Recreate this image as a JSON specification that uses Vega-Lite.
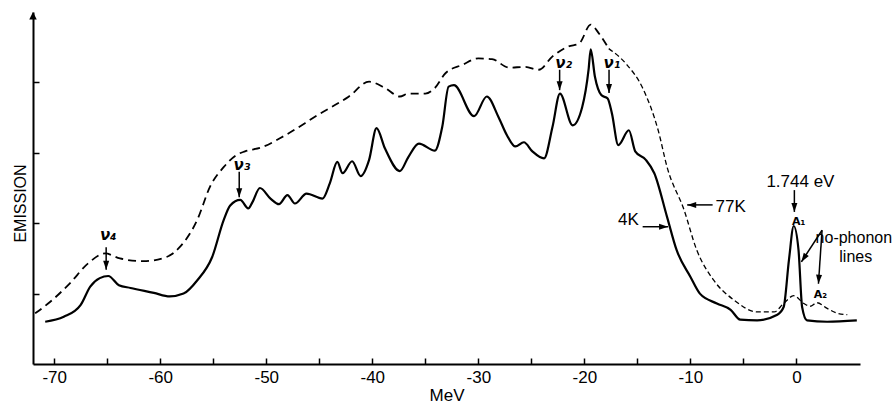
{
  "$schema": "https://vega.github.io/schema/vega-lite/v6.json",
  "width": 827,
  "height": 352,
  "autosize": {"type": "none"},
  "padding": {"left": 33, "top": 12, "right": 34, "bottom": 39},
  "background": "white",
  "config": {"view": {"stroke": null}, "font": "Liberation Sans"},
  "datasets": {
    "k4": [
      {"x": -70.85, "y": 0.60}, {"x": -69.1, "y": 0.67}, {"x": -67.5, "y": 0.84}, {"x": -66.6, "y": 1.10},
      {"x": -65.7, "y": 1.22}, {"x": -64.9, "y": 1.25}, {"x": -63.9, "y": 1.12}, {"x": -62.8, "y": 1.08},
      {"x": -60.6, "y": 1.01}, {"x": -59.1, "y": 0.96}, {"x": -57.8, "y": 1.00}, {"x": -56.5, "y": 1.19},
      {"x": -55.1, "y": 1.52}, {"x": -54.0, "y": 2.05}, {"x": -53.4, "y": 2.25}, {"x": -52.45, "y": 2.33},
      {"x": -51.7, "y": 2.21}, {"x": -51.3, "y": 2.30}, {"x": -50.6, "y": 2.50}, {"x": -49.6, "y": 2.35},
      {"x": -48.8, "y": 2.27}, {"x": -48.0, "y": 2.40}, {"x": -47.3, "y": 2.28}, {"x": -46.2, "y": 2.42},
      {"x": -44.7, "y": 2.35}, {"x": -44.0, "y": 2.57}, {"x": -43.3, "y": 2.87}, {"x": -42.8, "y": 2.71},
      {"x": -41.9, "y": 2.88}, {"x": -41.1, "y": 2.67}, {"x": -40.3, "y": 2.90}, {"x": -39.6, "y": 3.35},
      {"x": -38.8, "y": 3.06}, {"x": -37.4, "y": 2.74}, {"x": -36.6, "y": 2.94}, {"x": -35.6, "y": 3.13},
      {"x": -34.1, "y": 3.03}, {"x": -33.4, "y": 3.37}, {"x": -32.8, "y": 3.94}, {"x": -32.3, "y": 3.96},
      {"x": -30.4, "y": 3.52}, {"x": -29.2, "y": 3.80}, {"x": -28.1, "y": 3.51}, {"x": -27.3, "y": 3.25},
      {"x": -26.5, "y": 3.09}, {"x": -25.7, "y": 3.15}, {"x": -24.9, "y": 3.02}, {"x": -23.8, "y": 2.92},
      {"x": -23.0, "y": 3.37}, {"x": -22.3, "y": 3.84}, {"x": -21.1, "y": 3.39}, {"x": -20.2, "y": 3.65},
      {"x": -19.6, "y": 4.18}, {"x": -19.4, "y": 4.47}, {"x": -19.0, "y": 4.08}, {"x": -18.4, "y": 3.82},
      {"x": -17.8, "y": 3.77}, {"x": -17.4, "y": 3.56}, {"x": -16.8, "y": 3.11}, {"x": -15.8, "y": 3.32},
      {"x": -15.2, "y": 3.02}, {"x": -14.2, "y": 2.90}, {"x": -13.4, "y": 2.71}, {"x": -12.2, "y": 2.09},
      {"x": -11.3, "y": 1.62}, {"x": -10.0, "y": 1.24}, {"x": -9.1, "y": 1.00}, {"x": -7.5, "y": 0.86},
      {"x": -6.2, "y": 0.77}, {"x": -5.3, "y": 0.63}, {"x": -3.7, "y": 0.62}, {"x": -1.8, "y": 0.70},
      {"x": -1.2, "y": 0.81}, {"x": -0.7, "y": 1.48}, {"x": -0.25, "y": 1.96}, {"x": 0.2, "y": 1.62},
      {"x": 0.54, "y": 0.81}, {"x": 1.0, "y": 0.62}, {"x": 2.9, "y": 0.60}, {"x": 5.7, "y": 0.62}
    ],
    "k77a": [
      {"x": -71.8, "y": 0.72}, {"x": -70.4, "y": 0.88}, {"x": -68.5, "y": 1.15}, {"x": -66.8, "y": 1.43},
      {"x": -65.2, "y": 1.57}, {"x": -63.8, "y": 1.50}, {"x": -61.6, "y": 1.46}, {"x": -59.4, "y": 1.52},
      {"x": -58.1, "y": 1.67}, {"x": -56.5, "y": 2.05}, {"x": -55.3, "y": 2.52}, {"x": -54.0, "y": 2.80},
      {"x": -52.8, "y": 2.97}, {"x": -52.0, "y": 3.02}, {"x": -50.4, "y": 3.08}, {"x": -48.2, "y": 3.25},
      {"x": -45.1, "y": 3.54}, {"x": -42.2, "y": 3.80}, {"x": -40.3, "y": 4.01}, {"x": -38.8, "y": 3.92},
      {"x": -37.4, "y": 3.80}, {"x": -36.6, "y": 3.84}, {"x": -35.0, "y": 3.84}, {"x": -34.1, "y": 3.92},
      {"x": -33.1, "y": 4.13}, {"x": -31.5, "y": 4.25}, {"x": -30.0, "y": 4.34}, {"x": -28.7, "y": 4.33},
      {"x": -27.1, "y": 4.21}, {"x": -25.6, "y": 4.22}, {"x": -24.3, "y": 4.18}, {"x": -23.0, "y": 4.37},
      {"x": -21.5, "y": 4.51}, {"x": -20.5, "y": 4.55}, {"x": -19.4, "y": 4.82}, {"x": -18.6, "y": 4.69},
      {"x": -17.7, "y": 4.48}
    ],
    "k77b": [
      {"x": -17.7, "y": 4.48}, {"x": -16.1, "y": 4.27}, {"x": -14.5, "y": 3.92}, {"x": -13.0, "y": 3.30},
      {"x": -12.2, "y": 2.80}, {"x": -10.6, "y": 2.19}, {"x": -9.4, "y": 1.62}, {"x": -7.8, "y": 1.19},
      {"x": -5.9, "y": 0.91}, {"x": -3.7, "y": 0.74}, {"x": -2.1, "y": 0.74}, {"x": -1.2, "y": 0.86},
      {"x": -0.25, "y": 0.97}, {"x": 0.7, "y": 0.86}, {"x": 1.3, "y": 0.82}, {"x": 1.95, "y": 0.87},
      {"x": 2.9, "y": 0.79}, {"x": 3.9, "y": 0.72}, {"x": 4.8, "y": 0.70}
    ],
    "arrows": [
      {"x": -65.1, "y": 1.66, "x2": -65.1, "y2": 1.34, "dir": "down"},
      {"x": -52.55, "y": 2.73, "x2": -52.55, "y2": 2.37, "dir": "down"},
      {"x": -22.33, "y": 4.18, "x2": -22.33, "y2": 3.89, "dir": "down"},
      {"x": -17.67, "y": 4.18, "x2": -17.67, "y2": 3.85, "dir": "down"},
      {"x": -0.19, "y": 2.47, "x2": -0.19, "y2": 2.16, "dir": "down"},
      {"x": -7.9, "y": 2.26, "x2": -10.3, "y2": 2.26, "dir": "left"},
      {"x": -14.5, "y": 1.95, "x2": -12.1, "y2": 1.95, "dir": "right"},
      {"x": 2.42, "y": 1.90, "x2": 0.47, "y2": 1.45, "dir": "diag1"},
      {"x": 2.42, "y": 1.90, "x2": 2.08, "y2": 1.14, "dir": "diag2"},
      {"x": -72, "y": 5, "x2": -72, "y2": 5, "dir": "up"}
    ],
    "nu": [
      {"x": -64.9, "y": 1.83, "t": "ν₄"},
      {"x": -52.3, "y": 2.83, "t": "ν₃"},
      {"x": -21.95, "y": 4.27, "t": "ν₂"},
      {"x": -17.4, "y": 4.27, "t": "ν₁"}
    ],
    "big": [
      {"x": 0.38, "y": 2.59, "t": "1.744 eV"},
      {"x": -6.2, "y": 2.23, "t": "77K"},
      {"x": -15.85, "y": 2.05, "t": "4K"}
    ],
    "np": [
      {"x": 5.42, "y": 1.79, "t": "no-phonon"},
      {"x": 5.6, "y": 1.52, "t": "lines"}
    ],
    "alab": [
      {"x": 0.22, "y": 2.02, "t": "A₁"},
      {"x": 2.26, "y": 0.98, "t": "A₂"}
    ]
  },
  "encoding": {
    "x": {
      "field": "x", "type": "quantitative",
      "scale": {"domain": [-72, 6], "nice": false, "zero": false},
      "axis": {
        "values": [-70, -65, -60, -55, -50, -45, -40, -35, -30, -25, -20, -15, -10, -5, 0],
        "labelExpr": "datum.value % 10 === 0 ? (datum.value < 0 ? '-' + abs(datum.value) : '' + datum.value) : ''",
        "grid": false, "domainColor": "black", "domainWidth": 2,
        "tickColor": "black", "tickWidth": 1.5, "tickSize": -6, "labelPadding": 11,
        "labelFontSize": 17, "labelColor": "black", "labelFont": "Liberation Sans",
        "title": "MeV", "titleFontSize": 17, "titleFontWeight": "normal", "titleColor": "black",
        "titleFont": "Liberation Sans", "titleBaseline": "alphabetic", "titleY": 36
      }
    },
    "y": {
      "field": "y", "type": "quantitative",
      "scale": {"domain": [0, 5], "nice": false, "zero": false},
      "axis": {
        "values": [1, 2, 3, 4], "labels": false, "grid": false,
        "domainColor": "black", "domainWidth": 2,
        "tickColor": "black", "tickWidth": 1.5, "tickSize": -6,
        "title": "EMISSION", "titleFontSize": 16, "titleFontWeight": "normal", "titleColor": "black",
        "titleFont": "Liberation Sans", "titleAngle": 270, "titleAlign": "center",
        "titleBaseline": "alphabetic", "titleX": -8, "titleY": 191
      }
    }
  },
  "layer": [
    {"data": {"name": "k77a"}, "mark": {"type": "line", "interpolate": "monotone", "stroke": "black", "strokeWidth": 1.8, "strokeDash": [8, 5]}},
    {"data": {"name": "k77b"}, "mark": {"type": "line", "interpolate": "monotone", "stroke": "black", "strokeWidth": 1.3, "strokeDash": [5, 3]}},
    {"data": {"name": "k4"}, "mark": {"type": "line", "interpolate": "monotone", "stroke": "black", "strokeWidth": 2.2}},
    {"data": {"name": "arrows"}, "mark": {"type": "rule", "stroke": "black", "strokeWidth": 1.5},
     "encoding": {"x2": {"field": "x2"}, "y2": {"field": "y2"}}},
    {"data": {"name": "arrows"}, "transform": [{"filter": "datum.dir === 'down'"}],
     "mark": {"type": "point", "filled": true, "color": "black", "opacity": 1, "size": 100, "shape": "M0,0L-0.6,-1.8L0.6,-1.8Z", "angle": 0},
     "encoding": {"x": {"field": "x2", "type": "quantitative"}, "y": {"field": "y2", "type": "quantitative"}}},
    {"data": {"name": "arrows"}, "transform": [{"filter": "datum.dir === 'left'"}],
     "mark": {"type": "point", "filled": true, "color": "black", "opacity": 1, "size": 100, "shape": "M0,0L-0.6,-1.8L0.6,-1.8Z", "angle": 90},
     "encoding": {"x": {"field": "x2", "type": "quantitative"}, "y": {"field": "y2", "type": "quantitative"}}},
    {"data": {"name": "arrows"}, "transform": [{"filter": "datum.dir === 'right'"}],
     "mark": {"type": "point", "filled": true, "color": "black", "opacity": 1, "size": 100, "shape": "M0,0L-0.6,-1.8L0.6,-1.8Z", "angle": 270},
     "encoding": {"x": {"field": "x2", "type": "quantitative"}, "y": {"field": "y2", "type": "quantitative"}}},
    {"data": {"name": "arrows"}, "transform": [{"filter": "datum.dir === 'diag1'"}],
     "mark": {"type": "point", "filled": true, "color": "black", "opacity": 1, "size": 100, "shape": "M0,0L-0.6,-1.8L0.6,-1.8Z", "angle": 33},
     "encoding": {"x": {"field": "x2", "type": "quantitative"}, "y": {"field": "y2", "type": "quantitative"}}},
    {"data": {"name": "arrows"}, "transform": [{"filter": "datum.dir === 'diag2'"}],
     "mark": {"type": "point", "filled": true, "color": "black", "opacity": 1, "size": 100, "shape": "M0,0L-0.6,-1.8L0.6,-1.8Z", "angle": 4},
     "encoding": {"x": {"field": "x2", "type": "quantitative"}, "y": {"field": "y2", "type": "quantitative"}}},
    {"data": {"name": "arrows"}, "transform": [{"filter": "datum.dir === 'up'"}],
     "mark": {"type": "point", "filled": true, "color": "black", "opacity": 1, "size": 100, "shape": "M0,0L-0.75,-1.5L0.75,-1.5Z", "angle": 180},
     "encoding": {"x": {"field": "x2", "type": "quantitative"}, "y": {"field": "y2", "type": "quantitative"}}},
    {"data": {"name": "nu"}, "mark": {"type": "text", "font": "DejaVu Sans", "fontSize": 15, "fontWeight": "bold", "fontStyle": "italic", "align": "center", "baseline": "middle", "color": "black"},
     "encoding": {"text": {"field": "t"}}},
    {"data": {"name": "big"}, "mark": {"type": "text", "font": "Liberation Sans", "fontSize": 17, "align": "center", "baseline": "middle", "color": "black"},
     "encoding": {"text": {"field": "t"}}},
    {"data": {"name": "np"}, "mark": {"type": "text", "font": "Liberation Sans", "fontSize": 16, "align": "center", "baseline": "middle", "color": "black"},
     "encoding": {"text": {"field": "t"}}},
    {"data": {"name": "alab"}, "mark": {"type": "text", "font": "DejaVu Sans", "fontSize": 11, "fontWeight": "bold", "align": "center", "baseline": "middle", "color": "black"},
     "encoding": {"text": {"field": "t"}}}
  ]
}
